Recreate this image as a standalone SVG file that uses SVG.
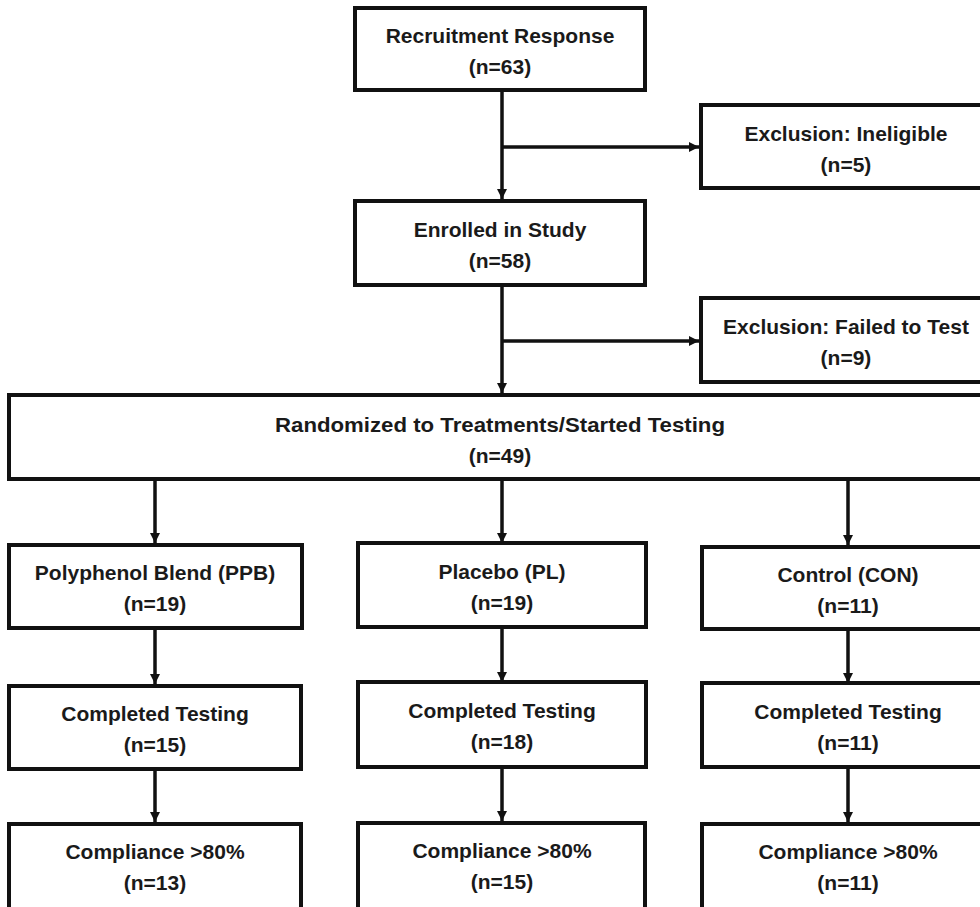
<svg xmlns="http://www.w3.org/2000/svg" width="980" height="907" viewBox="0 0 980 907">
<style>
.box{fill:#fff;stroke:#111;stroke-width:4}
.t{font-family:"Liberation Sans",Arial,sans-serif;font-weight:bold;font-size:21px;fill:#1a1a1a;text-anchor:middle}
.c{fill:none;stroke:#111;stroke-width:3.5}
</style>
<defs>
<marker id="ah" viewBox="0 0 10 10" refX="10" refY="5" markerWidth="10" markerHeight="10" markerUnits="userSpaceOnUse" orient="auto">
<path d="M0,0 L10,5 L0,10 Z" fill="#111"/>
</marker>
</defs>
<rect width="980" height="907" fill="#fff"/>
<g id="connectors">
<path class="c" d="M502,90 V199" marker-end="url(#ah)"/>
<path class="c" d="M502,147 H699" marker-end="url(#ah)"/>
<path class="c" d="M502,285 V393" marker-end="url(#ah)"/>
<path class="c" d="M502,341 H699" marker-end="url(#ah)"/>
<path class="c" d="M155,479 V543" marker-end="url(#ah)"/>
<path class="c" d="M502,479 V543" marker-end="url(#ah)"/>
<path class="c" d="M848,479 V545" marker-end="url(#ah)"/>
<path class="c" d="M155,628 V684" marker-end="url(#ah)"/>
<path class="c" d="M502,627 V682" marker-end="url(#ah)"/>
<path class="c" d="M848,629 V683" marker-end="url(#ah)"/>
<path class="c" d="M155,769 V822" marker-end="url(#ah)"/>
<path class="c" d="M502,767 V821" marker-end="url(#ah)"/>
<path class="c" d="M848,767 V822" marker-end="url(#ah)"/>
</g>
<g id="recruitment">
<rect class="box" x="355" y="8" width="290" height="82"/>
<text class="t" x="500" y="43">Recruitment Response</text>
<text class="t" x="500" y="74">(n=63)</text>
</g>
<g id="ineligible">
<rect class="box" x="701" y="105" width="292" height="83"/>
<text class="t" x="846" y="141">Exclusion: Ineligible</text>
<text class="t" x="846" y="172">(n=5)</text>
</g>
<g id="enrolled">
<rect class="box" x="355" y="201" width="290" height="84"/>
<text class="t" x="500" y="237">Enrolled in Study</text>
<text class="t" x="500" y="268">(n=58)</text>
</g>
<g id="failed">
<rect class="box" x="701" y="298" width="292" height="84"/>
<text class="t" x="846" y="334">Exclusion: Failed to Test</text>
<text class="t" x="846" y="365">(n=9)</text>
</g>
<g id="randomized">
<rect class="box" x="9" y="395" width="982" height="84"/>
<text class="t" x="500" y="432" textLength="450" lengthAdjust="spacingAndGlyphs">Randomized to Treatments/Started Testing</text>
<text class="t" x="500" y="463">(n=49)</text>
</g>
<g id="ppb">
<rect class="box" x="9" y="545" width="293" height="83"/>
<text class="t" x="155" y="580">Polyphenol Blend (PPB)</text>
<text class="t" x="155" y="611">(n=19)</text>
</g>
<g id="pl">
<rect class="box" x="358" y="543" width="288" height="84"/>
<text class="t" x="502" y="579">Placebo (PL)</text>
<text class="t" x="502" y="610">(n=19)</text>
</g>
<g id="con">
<rect class="box" x="702" y="547" width="292" height="82"/>
<text class="t" x="848" y="582">Control (CON)</text>
<text class="t" x="848" y="613">(n=11)</text>
</g>
<g id="ppb-completed">
<rect class="box" x="9" y="686" width="292" height="83"/>
<text class="t" x="155" y="721">Completed Testing</text>
<text class="t" x="155" y="752">(n=15)</text>
</g>
<g id="pl-completed">
<rect class="box" x="358" y="682" width="288" height="85"/>
<text class="t" x="502" y="718">Completed Testing</text>
<text class="t" x="502" y="749">(n=18)</text>
</g>
<g id="con-completed">
<rect class="box" x="702" y="683" width="292" height="84"/>
<text class="t" x="848" y="719">Completed Testing</text>
<text class="t" x="848" y="750">(n=11)</text>
</g>
<g id="ppb-compliance">
<rect class="box" x="9" y="824" width="292" height="86"/>
<text class="t" x="155" y="859">Compliance &gt;80%</text>
<text class="t" x="155" y="890">(n=13)</text>
</g>
<g id="pl-compliance">
<rect class="box" x="358" y="823" width="287" height="87"/>
<text class="t" x="502" y="858">Compliance &gt;80%</text>
<text class="t" x="502" y="889">(n=15)</text>
</g>
<g id="con-compliance">
<rect class="box" x="702" y="824" width="292" height="86"/>
<text class="t" x="848" y="859">Compliance &gt;80%</text>
<text class="t" x="848" y="890">(n=11)</text>
</g>
</svg>
